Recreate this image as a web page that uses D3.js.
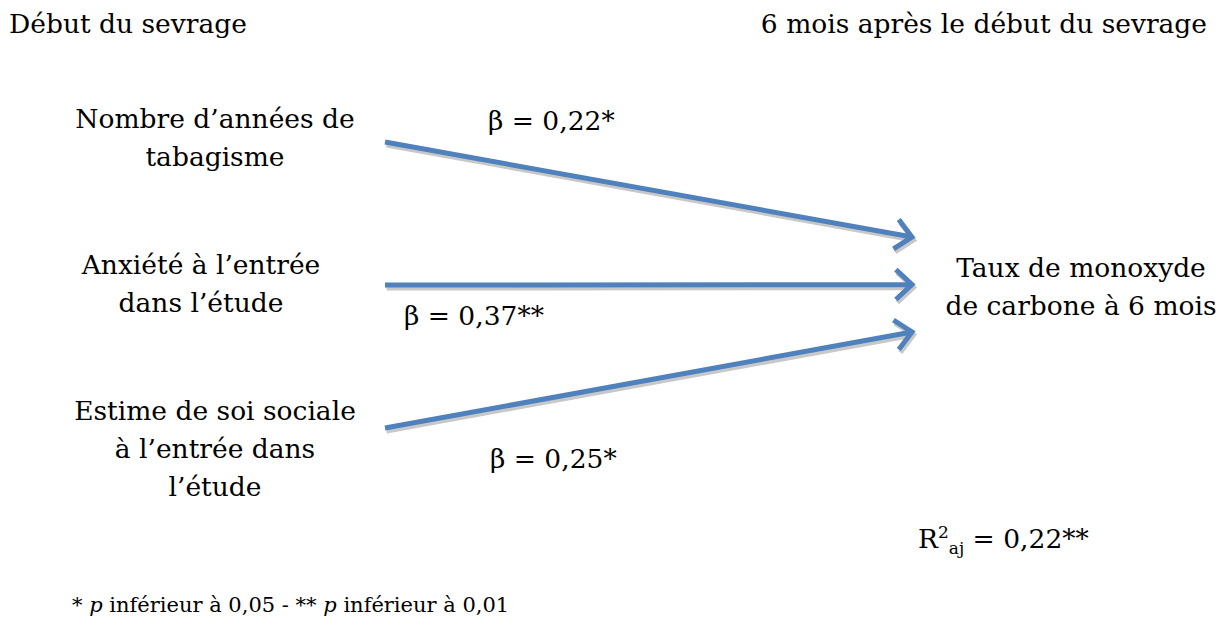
<!DOCTYPE html>
<html lang="fr">
<head>
    <meta charset="UTF-8">
    <title>Modèle de régression - sevrage</title>
    <script src="https://d3js.org/d3.v7.min.js"></script>
    <style>
        body { margin: 0; background: #fff; }
        text { font-family: "DejaVu Serif", "Liberation Serif", serif; fill: #000; }
    </style>
</head>
<body>
    <svg id="chart"></svg>

    <script>
        const width = 1223;
        const height = 629;

        // data
        const phases = ["Début du sevrage", "6 mois après le début du sevrage"];
        const predictors = [
            ["Nombre d’années de", "tabagisme"],
            ["Anxiété à l’entrée", "dans l’étude"],
            ["Estime de soi sociale", "à l’entrée dans", "l’étude"]
        ];
        const betas = ["0,22*", "0,37**", "0,25*"];
        const outcome = ["Taux de monoxyde", "de carbone à 6 mois"];
        const r2 = "0,22**";

        const fontSize = 26.5;
        const lineH = 38;

        const svg = d3.select("#chart")
            .attr("width", width)
            .attr("height", height)
            .attr("viewBox", [0, 0, width, height]);

        const idx = d3.range(predictors.length);
        // arrow ends, left and right
        const yStart = d3.scalePoint().domain(idx).range([142, 428]);
        const yEnd = d3.scalePoint().domain(idx).range([237, 332]);
        const yLabel = d3.scalePoint().domain(idx).range([128, 420]);
        const x = d3.scaleOrdinal()
            .domain(["left", "arrow0", "arrow1", "right"])
            .range([215, 385, 912, 1081]);

        // column headers
        svg.append("text")
            .attr("x", 9).attr("y", 33)
            .attr("font-size", fontSize)
            .text(phases[0]);
        svg.append("text")
            .attr("x", 1207).attr("y", 33)
            .attr("text-anchor", "end")
            .attr("font-size", fontSize)
            .text(phases[1]);

        // predictor labels
        const labels = svg.append("g")
            .attr("text-anchor", "middle")
            .attr("font-size", fontSize);
        labels.selectAll("text")
            .data(predictors)
            .join("text")
            .attr("x", (d, i) => i === 1 ? x("left") - 14 : x("left"))
            .attr("y", (d, i) => yLabel(i))
            .selectAll("tspan")
            .data(d => d)
            .join("tspan")
            .attr("x", function() { return this.parentNode.getAttribute("x"); })
            .attr("dy", (d, i) => i === 0 ? 0 : lineH)
            .text(d => d);

        // outcome label
        svg.append("text")
            .attr("text-anchor", "middle")
            .attr("font-size", fontSize)
            .attr("x", x("right")).attr("y", 277)
            .selectAll("tspan")
            .data(outcome)
            .join("tspan")
            .attr("x", x("right"))
            .attr("dy", (d, i) => i === 0 ? 0 : lineH)
            .text(d => d);

        // arrows
        const head = 22, spread = Math.PI / 4.2;
        function arrowPath(i) {
            const x0 = x("arrow0"), y0 = yStart(i), x1 = x("arrow1"), y1 = yEnd(i);
            const a = Math.atan2(y1 - y0, x1 - x0);
            const p = d3.path();
            p.moveTo(x0, y0);
            p.lineTo(x1, y1);
            p.moveTo(x1 - head * Math.cos(a - spread), y1 - head * Math.sin(a - spread));
            p.lineTo(x1, y1);
            p.lineTo(x1 - head * Math.cos(a + spread), y1 - head * Math.sin(a + spread));
            return p.toString();
        }

        const arrows = svg.append("g")
            .attr("fill", "none")
            .attr("stroke-width", 5)
            .attr("stroke-linejoin", "miter");
        arrows.selectAll("path.shadow")
            .data(idx)
            .join("path")
            .attr("class", "shadow")
            .attr("transform", "translate(1.5,3)")
            .attr("stroke", "#c8c8c8")
            .attr("d", arrowPath);
        arrows.selectAll("path.arrow")
            .data(idx)
            .join("path")
            .attr("class", "arrow")
            .attr("stroke", "#4f81bd")
            .attr("d", arrowPath);

        // coefficients
        const betaPos = [[488, 130], [404, 325], [490, 468]];
        svg.append("g")
            .attr("font-size", fontSize)
            .selectAll("text")
            .data(betas)
            .join("text")
            .attr("x", (d, i) => betaPos[i][0])
            .attr("y", (d, i) => betaPos[i][1])
            .text(d => "β = " + d);

        // R² ajusté
        const r = svg.append("text")
            .attr("x", 918).attr("y", 548)
            .attr("font-size", fontSize);
        r.append("tspan").text("R");
        r.append("tspan").attr("font-size", 17).attr("dy", -10).text("2");
        r.append("tspan").attr("font-size", 17).attr("dy", 16).text("aj");
        r.append("tspan").attr("dy", -6).text(" = " + r2);

        // footnote
        const f = svg.append("text")
            .attr("x", 72).attr("y", 612)
            .attr("font-size", 21);
        f.append("tspan").text("* ");
        f.append("tspan").attr("font-style", "italic").text("p");
        f.append("tspan").text(" inférieur à 0,05 - ** ");
        f.append("tspan").attr("font-style", "italic").text("p");
        f.append("tspan").text(" inférieur à 0,01");
    </script>
</body>
</html>
